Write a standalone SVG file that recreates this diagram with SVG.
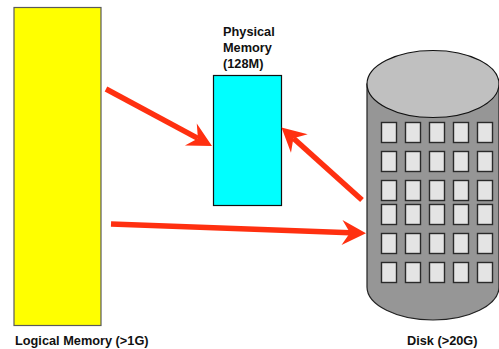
<svg xmlns="http://www.w3.org/2000/svg" width="499" height="349" viewBox="0 0 499 349">
<style>
text{font-family:"Liberation Sans",Arial,sans-serif;font-weight:bold;font-size:12.75px;fill:#111}
.win{fill:#e4e4e4;stroke:#2a2a2a;stroke-width:1.4}
.arrow{fill:none;stroke:#ff3010;stroke-width:5.5;marker-end:url(#head)}
.outline{stroke:#111;stroke-width:1.2}
</style>
<defs>
<marker id="head" markerUnits="userSpaceOnUse" markerWidth="26" markerHeight="28" viewBox="0 0 25 28" refX="8" refY="14" orient="auto">
<path d="M0 1.500L24 14L0 26.500L8 14Z" fill="#ff3010"/>
</marker>
</defs>
<rect width="499" height="349" fill="#fff"/>
<g id="logical-memory">
<rect x="14" y="7.500" width="87" height="318" fill="#ffff00" stroke="#5a5a5a" stroke-width="1.200"/>
<text x="15" y="345">Logical Memory (&gt;1G)</text>
</g>
<g id="physical-memory">
<rect x="213.500" y="75.500" width="68" height="130" fill="#00ffff" class="outline"/>
<text x="223" y="36">Physical</text>
<text x="223" y="52">Memory</text>
<text x="223" y="68">(128M)</text>
</g>
<g id="disk">
<path d="M367 84V287C367 305 397 320 433 320S499 305 499 287V84Z" fill="#969696" stroke="#222" stroke-width="1.200"/>
<ellipse cx="433" cy="84" rx="66" ry="33.500" fill="#c0c0c0" stroke="#111" stroke-width="1.200"/>
<g id="disk-windows">
<rect class="win" x="381.500" y="122.500" width="15" height="20"/><rect class="win" x="405.500" y="122.500" width="15" height="20"/><rect class="win" x="429.500" y="122.500" width="15" height="20"/><rect class="win" x="453.500" y="122.500" width="15" height="20"/><rect class="win" x="477.500" y="122.500" width="15" height="20"/>
<rect class="win" x="381.500" y="151.500" width="15" height="20"/><rect class="win" x="405.500" y="151.500" width="15" height="20"/><rect class="win" x="429.500" y="151.500" width="15" height="20"/><rect class="win" x="453.500" y="151.500" width="15" height="20"/><rect class="win" x="477.500" y="151.500" width="15" height="20"/>
<rect class="win" x="381.500" y="180.500" width="15" height="20"/><rect class="win" x="405.500" y="180.500" width="15" height="20"/><rect class="win" x="429.500" y="180.500" width="15" height="20"/><rect class="win" x="453.500" y="180.500" width="15" height="20"/><rect class="win" x="477.500" y="180.500" width="15" height="20"/>
<rect class="win" x="381.500" y="204.500" width="15" height="20"/><rect class="win" x="405.500" y="204.500" width="15" height="20"/><rect class="win" x="429.500" y="204.500" width="15" height="20"/><rect class="win" x="453.500" y="204.500" width="15" height="20"/><rect class="win" x="477.500" y="204.500" width="15" height="20"/>
<rect class="win" x="381.500" y="233.500" width="15" height="20"/><rect class="win" x="405.500" y="233.500" width="15" height="20"/><rect class="win" x="429.500" y="233.500" width="15" height="20"/><rect class="win" x="453.500" y="233.500" width="15" height="20"/><rect class="win" x="477.500" y="233.500" width="15" height="20"/>
<rect class="win" x="381.500" y="262.500" width="15" height="20"/><rect class="win" x="405.500" y="262.500" width="15" height="20"/><rect class="win" x="429.500" y="262.500" width="15" height="20"/><rect class="win" x="453.500" y="262.500" width="15" height="20"/><rect class="win" x="477.500" y="262.500" width="15" height="20"/>
</g>
<text x="407" y="345">Disk (&gt;20G)</text>
</g>
<g id="connectors">
<line class="arrow" x1="106" y1="89" x2="197.900" y2="138.400"/>
<line class="arrow" x1="362" y1="200" x2="293.400" y2="138.200"/>
<line class="arrow" x1="111" y1="224" x2="350" y2="232.700"/>
</g>
</svg>
